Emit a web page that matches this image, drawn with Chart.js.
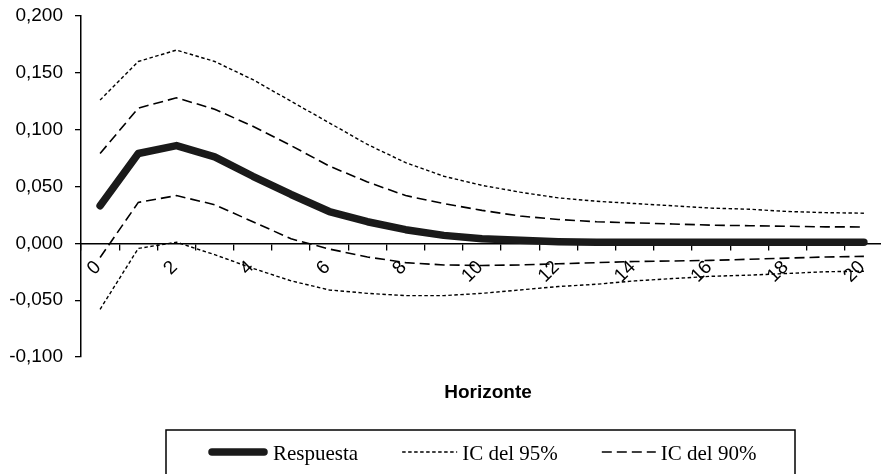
<!DOCTYPE html>
<html><head><meta charset="utf-8">
<script src="https://cdn.jsdelivr.net/npm/chart.js@4.4.1/dist/chart.umd.min.js"></script>
<style>html,body{margin:0;padding:0;overflow:hidden;background:#fff}#wrap{width:885px;height:474px;position:relative}</style>
</head><body><div id="wrap"><canvas id="c"></canvas></div>
<script>
const categories = ['0','1','2','3','4','5','6','7','8','9','10','11','12','13','14','15','16','17','18','19','20'];
const respuesta = [0.033, 0.079, 0.086, 0.076, 0.059, 0.043, 0.028, 0.019, 0.012, 0.007, 0.004, 0.0027, 0.0015, 0.001, 0.001, 0.001, 0.001, 0.001, 0.001, 0.001, 0.001];
const ic95Sup = [0.126, 0.160, 0.170, 0.160, 0.144, 0.125, 0.106, 0.087, 0.071, 0.059, 0.051, 0.045, 0.040, 0.037, 0.035, 0.033, 0.031, 0.030, 0.028, 0.027, 0.0265];
const ic95Inf = [-0.058, -0.0045, 0.001, -0.010, -0.022, -0.033, -0.041, -0.044, -0.046, -0.046, -0.044, -0.041, -0.038, -0.036, -0.033, -0.031, -0.029, -0.028, -0.0265, -0.025, -0.0245];
const ic90Sup = [0.079, 0.119, 0.128, 0.118, 0.103, 0.086, 0.068, 0.054, 0.042, 0.035, 0.029, 0.024, 0.021, 0.019, 0.018, 0.017, 0.016, 0.0155, 0.015, 0.0145, 0.0144];
const ic90Inf = [-0.0125, 0.036, 0.042, 0.034, 0.019, 0.004, -0.005, -0.012, -0.017, -0.019, -0.0195, -0.019, -0.018, -0.017, -0.016, -0.0155, -0.015, -0.014, -0.013, -0.012, -0.0115];
const yTickValues = [-0.1, -0.05, 0, 0.05, 0.1, 0.15, 0.2];
const xTitle = 'Horizonte';
const legendLabels = ['Respuesta', 'IC del 95%', 'IC del 90%'];

const boxLegend = {
  id: 'boxLegend',
  afterDraw(chart) {
    const ctx = chart.ctx;
    ctx.save();
    ctx.fillStyle = '#000';
    ctx.font = 'bold 19px "Liberation Sans", Arial, sans-serif';
    ctx.textAlign = 'center';
    ctx.textBaseline = 'alphabetic';
    ctx.fillText(xTitle, 488, 398);
    ctx.strokeStyle = '#000';
    ctx.lineWidth = 1.5;
    ctx.strokeRect(166, 430, 629, 60);
    const dsIdx = [0, 1, 3];
    const widths = [52, 55, 54];
    let x = 208;
    ctx.font = '21px "Liberation Serif", "Times New Roman", serif';
    ctx.textAlign = 'left';
    dsIdx.forEach((di, k) => {
      const ds = chart.data.datasets[di];
      ctx.beginPath();
      ctx.setLineDash(ds.borderDash || []);
      ctx.lineWidth = ds.borderWidth;
      ctx.lineCap = ds.borderCapStyle || 'butt';
      ctx.strokeStyle = ds.borderColor;
      const off = k === 0 ? 4 : 0;
      ctx.moveTo(x + off, 452);
      ctx.lineTo(x + off + widths[k], 452);
      ctx.stroke();
      ctx.setLineDash([]);
      const tx = x + widths[k] + (k === 0 ? 13 : 5);
      ctx.fillStyle = '#000';
      ctx.fillText(legendLabels[k], tx, 460);
      x = tx + ctx.measureText(legendLabels[k]).width + 44;
    });
    ctx.restore();
  }
};

const dotted = [3.5, 2.5];
const dashed = [10, 5];

new Chart(document.getElementById('c'), {
  type: 'line',
  data: {
    labels: categories,
    datasets: [
      { label: legendLabels[0], data: respuesta, borderColor: '#1a1a1a', borderWidth: 7.5, borderCapStyle: 'round', borderJoinStyle: 'round', pointRadius: 0, tension: 0, fill: false },
      { label: legendLabels[1], data: ic95Sup, borderColor: '#000', borderWidth: 1.4, borderDash: dotted, pointRadius: 0, tension: 0, fill: false },
      { label: legendLabels[1] + ' inf', data: ic95Inf, borderColor: '#000', borderWidth: 1.4, borderDash: dotted, pointRadius: 0, tension: 0, fill: false },
      { label: legendLabels[2], data: ic90Sup, borderColor: '#000', borderWidth: 1.6, borderDash: dashed, pointRadius: 0, tension: 0, fill: false },
      { label: legendLabels[2] + ' inf', data: ic90Inf, borderColor: '#000', borderWidth: 1.6, borderDash: dashed, pointRadius: 0, tension: 0, fill: false }
    ]
  },
  options: {
    responsive: true,
    maintainAspectRatio: false,
    animation: false,
    devicePixelRatio: 1,
    layout: { padding: { left: 0, right: 2, top: 16, bottom: 117 } },
    plugins: { legend: { display: false }, tooltip: { enabled: false }, title: { display: false } },
    scales: {
      x: {
        type: 'category',
        position: { y: 0 },
        offset: true,
        afterFit: s => { s.height = 0; s.paddingLeft = 0; s.paddingRight = 0; },
        grid: { offset: true, drawOnChartArea: false, drawTicks: true, tickLength: 6, color: '#000', lineWidth: 1.3 },
        border: { display: true, color: '#000', width: 1.5 },
        ticks: {
          autoSkip: false, minRotation: 45, maxRotation: 45, labelOffset: -2, padding: 7,
          color: '#000', font: { family: '"Liberation Sans", Arial, sans-serif', size: 19 },
          callback: function(v, i) { const l = this.getLabelForValue(v); return (Number(l) % 2 === 0) ? l : ''; }
        }
      },
      y: {
        min: -0.1, max: 0.2,
        afterFit: s => { s.width = 81; s.paddingTop = 0; s.paddingBottom = 0; },
        afterBuildTicks: s => { s.ticks = yTickValues.map(v => ({ value: v })); },
        grid: { drawOnChartArea: false, drawTicks: true, tickLength: 6, color: '#000', lineWidth: 1.3 },
        border: { display: true, color: '#000', width: 1.5 },
        ticks: {
          padding: 12, color: '#000', font: { family: '"Liberation Sans", Arial, sans-serif', size: 19 },
          callback: v => v.toFixed(3).replace('.', ',')
        }
      }
    }
  },
  plugins: [boxLegend]
});
</script>
</body></html>
